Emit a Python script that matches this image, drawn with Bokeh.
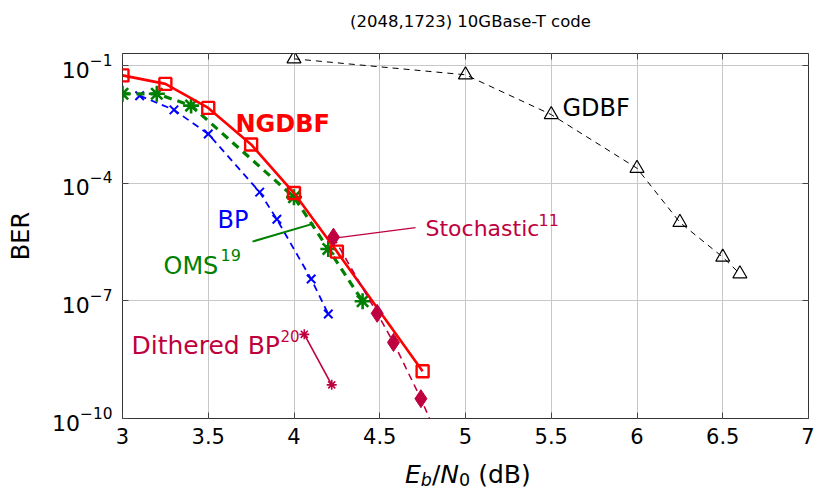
from bokeh.plotting import figure
from bokeh.models import (Range1d, FixedTicker, LinearAxis, LogAxis, Label, Div,
                          NumeralTickFormatter, LogTickFormatter, CustomJSTickFormatter)
from bokeh.layouts import column
from bokeh.embed import file_html
from bokeh.resources import INLINE

# ---------------- data ----------------
x_ticks = [3, 3.5, 4, 4.5, 5, 5.5, 6, 6.5, 7]
y_ticks = [1e-10, 1e-7, 1e-4, 1e-1]

ngdbf_x = [3.0, 3.25, 3.5, 3.75, 4.0, 4.25, 4.75]
ngdbf_y = [5.6e-2, 3.4e-2, 8.3e-3, 9.7e-4, 5.6e-5, 1.8e-6, 1.6e-9]

oms_x = [3.0, 3.2, 3.4, 4.0, 4.2, 4.4]
oms_y = [1.9e-2, 1.9e-2, 9.5e-3, 4.4e-5, 2.1e-6, 9.8e-8]

bp_x = [3.1, 3.3, 3.5, 3.8, 3.9, 4.1, 4.2]
bp_y = [1.7e-2, 7.4e-3, 1.8e-3, 5.9e-5, 1.2e-5, 3.6e-7, 4.6e-8]

gdbf_x = [4.0, 5.0, 5.5, 6.0, 6.25, 6.5, 6.6]
gdbf_y = [0.148, 5.8e-2, 5.6e-3, 2.4e-4, 1.0e-5, 1.3e-6, 4.9e-7]

stoch_x = [4.23, 4.485, 4.58, 4.74, 4.8]
stoch_y = [4.2e-6, 4.8e-8, 8.7e-9, 3.2e-10, 8e-11]

dith_x = [4.06, 4.22]
dith_y = [1.4e-8, 7.2e-10]

title_text = "(2048,1723) 10GBase-T code"
y_label = "BER"
SUB = '<sub style="font-size:70%;line-height:0;vertical-align:-0.15em">'
x_label_html = f'<i>E</i>{SUB}<i>b</i></sub>/<i>N</i>{SUB}0</sub> (dB)'

# ---------------- styling ----------------
RED = "#ff0000"
GREEN = "#008000"
BLUE = "#0000ff"
PURPLE = "#bf0040"
FONT = "DejaVu Sans"

y_top = 10 ** (-1 + 12 / 39.2)

p = figure(width=814, height=420, output_backend="svg", toolbar_location=None,
           x_range=Range1d(3, 7), y_range=Range1d(1e-10, y_top),
           y_axis_type="log", min_border_left=122, min_border_right=6,
           min_border_top=18, min_border_bottom=37)
p.background_fill_color = "white"
p.border_fill_color = "white"
p.outline_line_color = "#333333"
p.outline_line_width = 1

bottom_axis = p.below[0]
left_axis = p.left[0]

xt = FixedTicker(ticks=x_ticks)
yt = FixedTicker(ticks=y_ticks)
bottom_axis.ticker = xt
left_axis.ticker = yt
bottom_axis.formatter = NumeralTickFormatter(format="0.[0]")
left_axis.formatter = LogTickFormatter()

blank = CustomJSTickFormatter(code="return ''")
top_axis = LinearAxis(ticker=xt, formatter=blank, major_label_standoff=0,
                      major_label_text_font_size="1px")
right_axis = LogAxis(ticker=yt, formatter=blank, major_label_standoff=0,
                     major_label_text_font_size="1px")
p.add_layout(top_axis, "above")
p.add_layout(right_axis, "right")

for ax in [bottom_axis, left_axis, top_axis, right_axis]:
    ax.major_tick_in = 6
    ax.major_tick_out = 0
    ax.minor_tick_line_color = None
    ax.axis_line_color = None
    ax.major_tick_line_color = "#444444"
    ax.major_label_text_font = FONT
    ax.major_label_text_color = "black"
bottom_axis.major_label_text_font_size = "21px"
bottom_axis.major_label_standoff = 9
left_axis.major_label_text_font_size = "22px"
left_axis.major_label_standoff = 10

left_axis.axis_label = y_label
left_axis.axis_label_text_font = FONT
left_axis.axis_label_text_font_size = "24px"
left_axis.axis_label_text_font_style = "normal"
left_axis.axis_label_text_color = "black"
left_axis.axis_label_standoff = 14

for g in [p.xgrid[0], p.ygrid[0]]:
    g.grid_line_color = "#c8c8c8"
    g.grid_line_width = 1

# ---------------- curves ----------------
p.line(gdbf_x, gdbf_y, line_color="black", line_width=1, line_dash="6 5")
p.scatter(gdbf_x, gdbf_y, marker="triangle", size=14, line_color="black",
          line_width=1.2, fill_color=None)

p.line(bp_x, bp_y, line_color=BLUE, line_width=1.8, line_dash="7 5")
p.scatter(bp_x, bp_y, marker="x", size=12, line_color=BLUE, line_width=2)

p.line(oms_x, oms_y, line_color=GREEN, line_width=3.2, line_dash="8 6")
p.scatter(oms_x, oms_y, marker="asterisk", size=16, line_color=GREEN, line_width=2.6)

p.line(ngdbf_x, ngdbf_y, line_color=RED, line_width=2.6)
p.scatter(ngdbf_x, ngdbf_y, marker="square", size=12, line_color=RED,
          line_width=2.4, fill_color=None)

p.line(stoch_x, stoch_y, line_color=PURPLE, line_width=1.6, line_dash="7 5")
p.scatter(stoch_x[:4], stoch_y[:4], marker="diamond", size=18, line_color=PURPLE,
          fill_color=PURPLE)

p.line(dith_x, dith_y, line_color=PURPLE, line_width=1.6)
p.scatter(dith_x, dith_y, marker="asterisk", size=10, line_color=PURPLE, line_width=1.6)

# ---------------- annotations (page pixel positions -> data) ----------------
def dx(px):
    return 3 + (px - 122) / 171.5


def dy(py):
    return 10 ** (-1 - (py - 65) / 39.2)


def lab(text, px, py, color="black", size=24, style="normal"):
    p.add_layout(Label(x=dx(px), y=dy(py), text=text, text_color=color,
                       text_font=FONT, text_font_size=f"{size}px",
                       text_font_style=style, text_align="left",
                       text_baseline="alphabetic"))


# leaders
p.segment(x0=[dx(252)], y0=[dy(241)], x1=[dx(313)], y1=[dy(223)],
          line_color=GREEN, line_width=2)
p.segment(x0=[dx(415)], y0=[dy(227)], x1=[dx(338)], y1=[dy(237)],
          line_color=PURPLE, line_width=1.2)

lab("NGDBF", 235, 123, RED, 24, "bold")
lab("GDBF", 562, 107, "black", 24)
lab("BP", 217, 219, BLUE, 24)
lab("OMS", 163, 265, GREEN, 24)
lab("19", 220, 254, GREEN, 16)
lab("Stochastic", 425, 228, PURPLE, 22)
lab("11", 538, 219, PURPLE, 16)
lab("Dithered BP", 131, 345, PURPLE, 25)
lab("20", 280, 335, PURPLE, 15)

# title (HTML text above the plot)
title_div = Div(text=title_text, width=814, height=25,
                styles={"font-family": FONT, "font-size": "16.5px", "color": "black",
                        "line-height": "20px", "padding-top": "7px",
                        "padding-left": "345px", "white-space": "nowrap"})

# x axis label (HTML text under the plot)
xlabel = Div(text=x_label_html, width=814, height=34,
             styles={"font-family": FONT, "font-size": "25px", "color": "black",
                     "line-height": "24px", "padding-top": "3px",
                     "padding-left": "400px", "white-space": "nowrap"})

layout = column(title_div, p, xlabel, spacing=0)
open("out.html", "w").write(file_html(layout, INLINE))
